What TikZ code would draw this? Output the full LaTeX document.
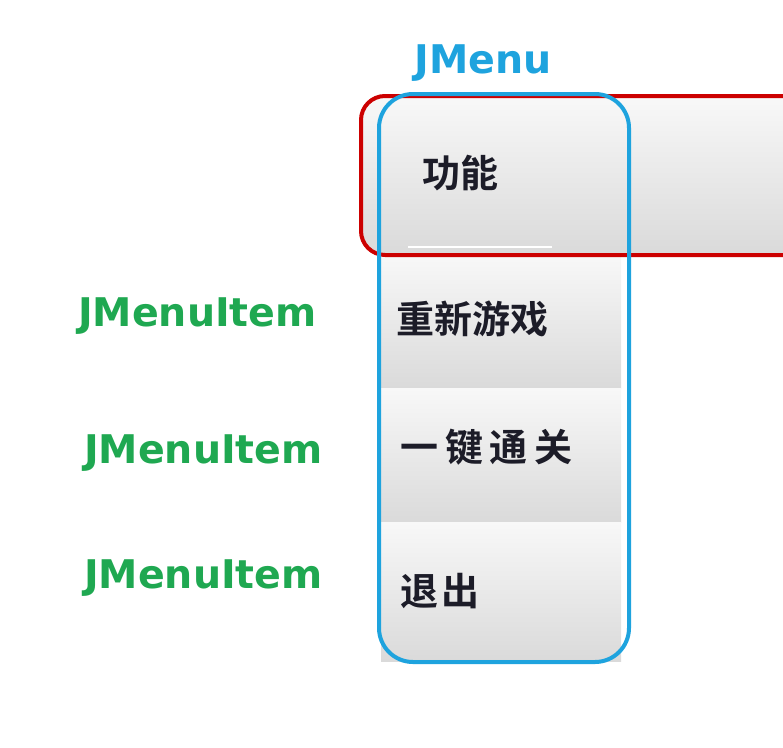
\documentclass[tikz,border=0pt]{standalone}
\usepackage{fontspec}
\newfontfamily\cjk{Noto Sans CJK SC Bold}
\newfontfamily\cjksp[LetterSpace=18]{Noto Sans CJK SC Bold}
\newfontfamily\cjkspb[LetterSpace=8]{Noto Sans CJK SC Bold}
\newfontfamily\lab{DejaVu Sans Bold}
\definecolor{menublue}{HTML}{1EA3DE}
\definecolor{itemgreen}{HTML}{1FA851}
\definecolor{barred}{HTML}{CC0000}
\definecolor{gtop}{HTML}{F8F8F8}
\definecolor{gbot}{HTML}{DADADA}
\definecolor{inktext}{HTML}{1C1C28}
\tikzset{
  itembg/.style={top color=gtop,bottom color=gbot,draw=none},
  cjktext/.style={font=\cjk\fontsize{38}{42}\selectfont,text=inktext,inner sep=0pt,anchor=west},
  greenlab/.style={font=\lab\fontsize{39.5}{44}\selectfont,text=itemgreen,inner sep=0pt,anchor=west},
  bluelab/.style={font=\lab\fontsize{39.5}{44}\selectfont,text=menublue,inner sep=0pt},
  redframe/.style={draw=barred,line width=4pt,rounded corners=24pt},
  blueframe/.style={draw=menublue,line width=4pt,rounded corners=34pt}
}
\begin{document}
\begin{tikzpicture}[x=1pt,y=-1pt]
\useasboundingbox (0,0) rectangle (783,747);
\clip (0,0) rectangle (783,747);
% menu bar background
\shade[itembg,rounded corners=22pt] (362,97) rectangle (830,253);
\draw[white,line width=2pt] (408,247) -- (552,247);
% menu item backgrounds
\shade[itembg] (381,255) rectangle (621,388);
\shade[itembg] (381,388) rectangle (621,522);
\shade[itembg] (381,522) rectangle (621,661);
% texts
\node[cjktext] (gn) at (422,173) {功能};
\node[cjktext] (cx) at (396,319) {重新游戏};
\node[cjktext,font=\cjksp\fontsize{38}{42}\selectfont] (yj) at (400,447) {一键通关};
\node[cjktext,font=\cjkspb\fontsize{38}{42}\selectfont] (tc) at (400,591) {退出};
% frames
\draw[redframe] (361,96) rectangle (840,255);
\draw[blueframe] (379,94) rectangle (629,662);
% labels
\node[bluelab] (jm) at (483,63) {JMenu};
\node[greenlab] (i1) at (78,316) {JMenuItem};
\node[greenlab] (i2) at (84,453) {JMenuItem};
\node[greenlab] (i3) at (84,578) {JMenuItem};
\end{tikzpicture}
\end{document}
